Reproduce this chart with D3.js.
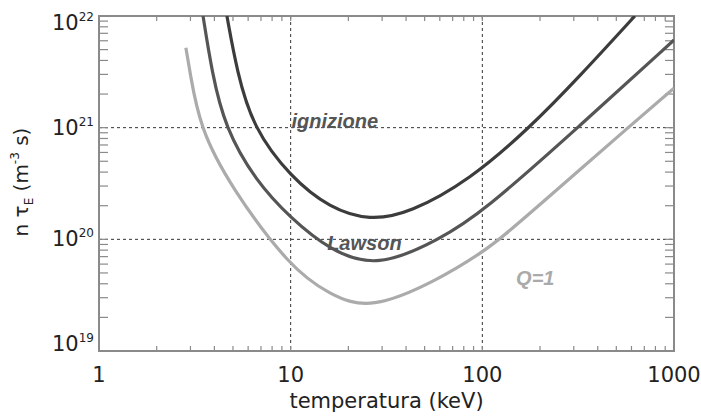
<!DOCTYPE html>
<html>
<head>
<meta charset="utf-8">
<script src="https://cdn.jsdelivr.net/npm/d3@7"></script>
<style>
  body { margin: 0; background: #fff; }
  text { font-family: "DejaVu Sans", sans-serif; }
  text.lab { font-family: "Liberation Sans", Arial, sans-serif; }
</style>
</head>
<body>
<div id="chart"></div>
<script>
// temperature (keV) and n*tauE (m^-3 s)
const ignitionT = [4.65, 5.25, 6.36, 10, 16, 25.9, 41.9, 86, 177, 323, 625];
const ignitionV = [1e22, 3.16e21, 1e21, 3.6e20, 1.9e20, 1.47e20, 1.72e20, 3.4e20, 1e21, 2.9e21, 1e22];

const lawsonT = [3.49, 3.88, 4.54, 6.6, 10, 16, 28.2, 60, 100.7, 315, 1000];
const lawsonV = [1e22, 3.16e21, 1e21, 3.3e20, 1.55e20, 8.0e19, 5.5e19, 1.0e20, 1.76e20, 1e21, 6.1e21];

const q1T = [2.84, 2.98, 3.36, 4.83, 10, 16, 25.9, 60, 100, 124, 323, 575, 1000];
const q1V = [5.2e21, 3.16e21, 1e21, 3.0e20, 5.5e19, 3.2e19, 2.3e19, 4.4e19, 7.7e19, 1e20, 4.2e20, 1e21, 2.26e21];

const xTickValues = [1, 10, 100, 1000];
const yTickValues = [1e19, 1e20, 1e21, 1e22];
const gridX = [10, 100];
const gridY = [1e20, 1e21];

const width = 701;
const height = 416;
const margin = { left: 99, right: 27, top: 16, bottom: 65 };

const svg = d3.select('#chart')
    .append('svg')
    .attr('width', width)
    .attr('height', height);

const x = d3.scaleLog()
    .domain([1, 1000])
    .range([margin.left, width - margin.right]);

const y = d3.scaleLog()
    .domain([1e19, 1e22])
    .range([height - margin.bottom, margin.top]);

const x0 = x.range()[0], x1 = x.range()[1];
const y0 = y.range()[0], y1 = y.range()[1];

// dashed grid
svg.selectAll('.gx')
    .data(gridX)
    .enter()
    .append('line')
    .attr('x1', d => x(d)).attr('x2', d => x(d))
    .attr('y1', y1).attr('y2', y0)
    .attr('stroke', '#333')
    .attr('stroke-width', 1)
    .attr('stroke-dasharray', '3,3');

svg.selectAll('.gy')
    .data(gridY)
    .enter()
    .append('line')
    .attr('x1', x0).attr('x2', x1)
    .attr('y1', d => y(d)).attr('y2', d => y(d))
    .attr('stroke', '#333')
    .attr('stroke-width', 1)
    .attr('stroke-dasharray', '3,3');

// minor ticks, pointing inward
const axisColor = '#8a8a8a';
const xTicks = x.ticks().filter(d => d > 1 && d < 1000);
const yTicks = y.ticks().filter(d => d > 1e19 && d < 1e22);

const ticks = svg.append('g')
    .attr('stroke', axisColor)
    .attr('stroke-width', 1.2);

xTicks.forEach(d => {
    ticks.append('line').attr('x1', x(d)).attr('x2', x(d)).attr('y1', y0).attr('y2', y0 - 5);
    ticks.append('line').attr('x1', x(d)).attr('x2', x(d)).attr('y1', y1).attr('y2', y1 + 5);
});
yTicks.forEach(d => {
    ticks.append('line').attr('x1', x0).attr('x2', x0 + 9).attr('y1', y(d)).attr('y2', y(d));
    ticks.append('line').attr('x1', x1).attr('x2', x1 - 9).attr('y1', y(d)).attr('y2', y(d));
});

// frame
svg.append('rect')
    .attr('x', x0).attr('y', y1)
    .attr('width', x1 - x0).attr('height', y0 - y1)
    .attr('fill', 'none')
    .attr('stroke', axisColor)
    .attr('stroke-width', 2);

// curves
const line = d3.line()
    .x(d => x(d[0]))
    .y(d => y(d[1]))
    .curve(d3.curveBasis);

const series = [
    { t: q1T, v: q1V, color: '#ababab' },
    { t: lawsonT, v: lawsonV, color: '#555' },
    { t: ignitionT, v: ignitionV, color: '#3c3c3c' }
];

svg.append('clipPath').attr('id', 'clip')
    .append('rect')
    .attr('x', x0).attr('y', y1)
    .attr('width', x1 - x0).attr('height', y0 - y1);

svg.append('g')
    .attr('clip-path', 'url(#clip)')
    .selectAll('path')
    .data(series)
    .enter()
    .append('path')
    .attr('d', s => line(s.t.map((t, i) => [t, s.v[i]])))
    .attr('fill', 'none')
    .attr('stroke', s => s.color)
    .attr('stroke-width', 3.2);

// tick labels
svg.selectAll('.xl')
    .data(xTickValues)
    .enter()
    .append('text')
    .attr('x', d => x(d))
    .attr('y', y0 + 31)
    .attr('text-anchor', 'middle')
    .attr('font-size', 21)
    .attr('fill', '#222')
    .text(d => d);

const yl = svg.selectAll('.yl')
    .data(yTickValues)
    .enter()
    .append('text')
    .attr('x', x0 - 5)
    .attr('y', d => Math.min(Math.max(y(d) + 7, y1 + 14), y0))
    .attr('text-anchor', 'end')
    .attr('font-size', 21)
    .attr('fill', '#222');
yl.append('tspan').text('10');
yl.append('tspan')
    .attr('font-size', 12)
    .attr('dy', -9)
    .text(d => Math.round(Math.log10(d)));

// axis titles
svg.append('text')
    .attr('x', (x0 + x1) / 2)
    .attr('y', 408)
    .attr('text-anchor', 'middle')
    .attr('font-size', 21)
    .attr('fill', '#222')
    .text('temperatura (keV)');

const yt = svg.append('text')
    .attr('transform', `translate(28, 182) rotate(-90)`)
    .attr('text-anchor', 'middle')
    .attr('font-size', 20)
    .attr('fill', '#222');
yt.append('tspan').text('n τ');
yt.append('tspan').attr('font-size', 12).attr('dy', 5).text('E');
yt.append('tspan').attr('dy', -5).text(' (m');
yt.append('tspan').attr('font-size', 12).attr('dy', -9).text('-3');
yt.append('tspan').attr('dy', 9).text(' s)');

// curve labels
const labels = [
    { text: 'ignizione', t: 10.1, v: 1.0e21, color: '#555' },
    { text: 'Lawson', t: 15.5, v: 8.0e19, color: '#555' },
    { text: 'Q=1', t: 150, v: 3.9e19, color: '#aaa' }
];
svg.selectAll('.lab')
    .data(labels)
    .enter()
    .append('text')
    .attr('class', 'lab')
    .attr('x', d => x(d.t))
    .attr('y', d => y(d.v))
    .attr('font-size', 20)
    .attr('font-weight', 'bold')
    .attr('font-style', 'italic')
    .attr('fill', d => d.color)
    .text(d => d.text);
</script>
</body>
</html>
